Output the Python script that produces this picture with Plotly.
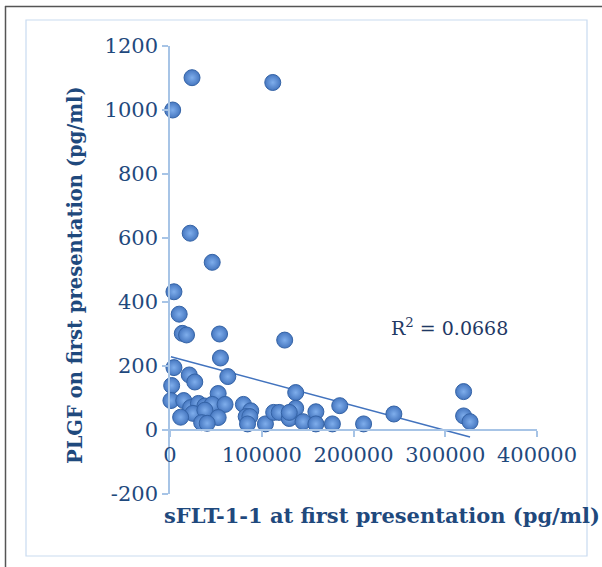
import plotly.graph_objects as go

# data: sFLT-1-1 (pg/ml) vs PLGF (pg/ml)
sflt = [2900, 24000, 112000, 22000, 46000, 4300, 10000, 13400, 18000, 54000, 125000,
        4300, 55000, 63000, 21000, 27000, 1800, 137000, 185000, 1000, 15000, 52500,
        22500, 31000, 38000, 46000, 60000, 25000, 38000, 11600, 52500, 34500, 40500,
        80000, 88000, 83000, 87000, 84500, 104000, 113000, 119000, 130000, 137000,
        145000, 130000, 159000, 159000, 177000, 211000, 244000, 320000, 320000, 327000]
plgf = [1000, 1101, 1086, 615, 524, 432, 362, 302, 297, 300, 281,
        195, 225, 167, 172, 150, 139, 117, 76, 92, 92, 114,
        70, 83, 75, 80, 80, 52, 62, 40, 39, 23, 21,
        80, 60, 42, 42, 19, 19, 55, 55, 36, 68,
        26, 55, 57, 19, 19, 19, 50, 120, 44, 26]

# linear trendline as shown in the picture
trend_intercept = 230
trend_slope = -0.00077

x_ticks = [0, 100000, 200000, 300000, 400000]
x_tick_labels = ["0", "100000", "200000", "300000", "400000"]
y_ticks = [-200, 0, 200, 400, 600, 800, 1000, 1200]
y_tick_labels = ["-200", "0", "200", "400", "600", "800", "1000", "1200"]
r2_label = "R<sup>2</sup> = 0.0668"

x_title = "sFLT-1-1 at first presentation (pg/ml)"
y_title = "PLGF on first presentation (pg/ml)"

trend_x = [min(sflt), max(sflt)]
trend_y = [trend_intercept + trend_slope * v for v in trend_x]

W, H = 602, 567
L, R, T, B = 170, 65, 46, 73
pw, ph = W - L - R, H - T - B
def px(x):
    return (x - L) / pw
def py(y):
    return (H - B - y) / ph

TXT = "#1F497D"
AX = "#A7C4E6"
FONT = "DejaVu Serif"

fig = go.Figure()
fig.add_trace(go.Scatter(x=trend_x, y=trend_y, mode="lines",
                         line=dict(color="#4273BE", width=1.6),
                         hoverinfo="skip", showlegend=False, cliponaxis=False))
fig.add_trace(go.Scatter(x=sflt, y=plgf, mode="markers", cliponaxis=False, showlegend=False,
                         marker=dict(size=16, color="#4677C0",
                                     gradient=dict(type="radial", color="#7FAEEC"),
                                     line=dict(color="#3463A6", width=1))))

y0_pos = 200 / 1400
fig.update_layout(
    width=W, height=H, margin=dict(l=L, r=R, t=T, b=B),
    paper_bgcolor="white", plot_bgcolor="white",
    font=dict(family=FONT, color=TXT, size=21),
    xaxis=dict(range=[0, 400000], tickvals=x_ticks, ticktext=x_tick_labels,
               showgrid=False, zeroline=False, showline=True, linecolor=AX, linewidth=1.5,
               ticks="outside", ticklen=6, tickcolor=AX, tickwidth=1.5,
               anchor="free", position=y0_pos, tickfont=dict(size=21, color=TXT)),
    yaxis=dict(range=[-200, 1200], tickvals=y_ticks, ticktext=y_tick_labels,
               showgrid=False, zeroline=False, showline=True, linecolor=AX, linewidth=1.5,
               ticks="outside", ticklen=6, tickcolor=AX, tickwidth=1.5,
               tickfont=dict(size=21, color=TXT)),
    shapes=[
        dict(type="rect", xref="paper", yref="paper", x0=px(26), x1=px(587), y0=py(556), y1=py(20),
             line=dict(color="#C9DBF0", width=1.2), layer="below"),
        dict(type="line", xref="paper", yref="paper", x0=px(5.5), x1=px(5.5), y0=py(6), y1=py(567),
             line=dict(color="#555555", width=1.5)),
        dict(type="line", xref="paper", yref="paper", x0=px(5), x1=px(602), y0=py(6.5), y1=py(6.5),
             line=dict(color="#555555", width=1.5)),
    ],
    annotations=[
        dict(text="<b>" + x_title + "</b>", xref="paper", yref="paper", x=px(162), y=py(515),
             xanchor="left", yanchor="middle", showarrow=False, font=dict(size=21, color=TXT)),
        dict(text="<b>" + y_title + "</b>", xref="paper", yref="paper", x=px(75), y=py(275),
             xanchor="center", yanchor="middle", textangle=-90, showarrow=False,
             font=dict(size=19.5, color=TXT)),
        dict(text=r2_label, xref="paper", yref="paper", x=px(449), y=py(327),
             xanchor="center", yanchor="middle", showarrow=False,
             font=dict(size=19, color="#1F3864")),
    ],
)
fig.write_html("out.html", config={"displayModeBar": False},
               post_script="document.body.style.margin='0';")
